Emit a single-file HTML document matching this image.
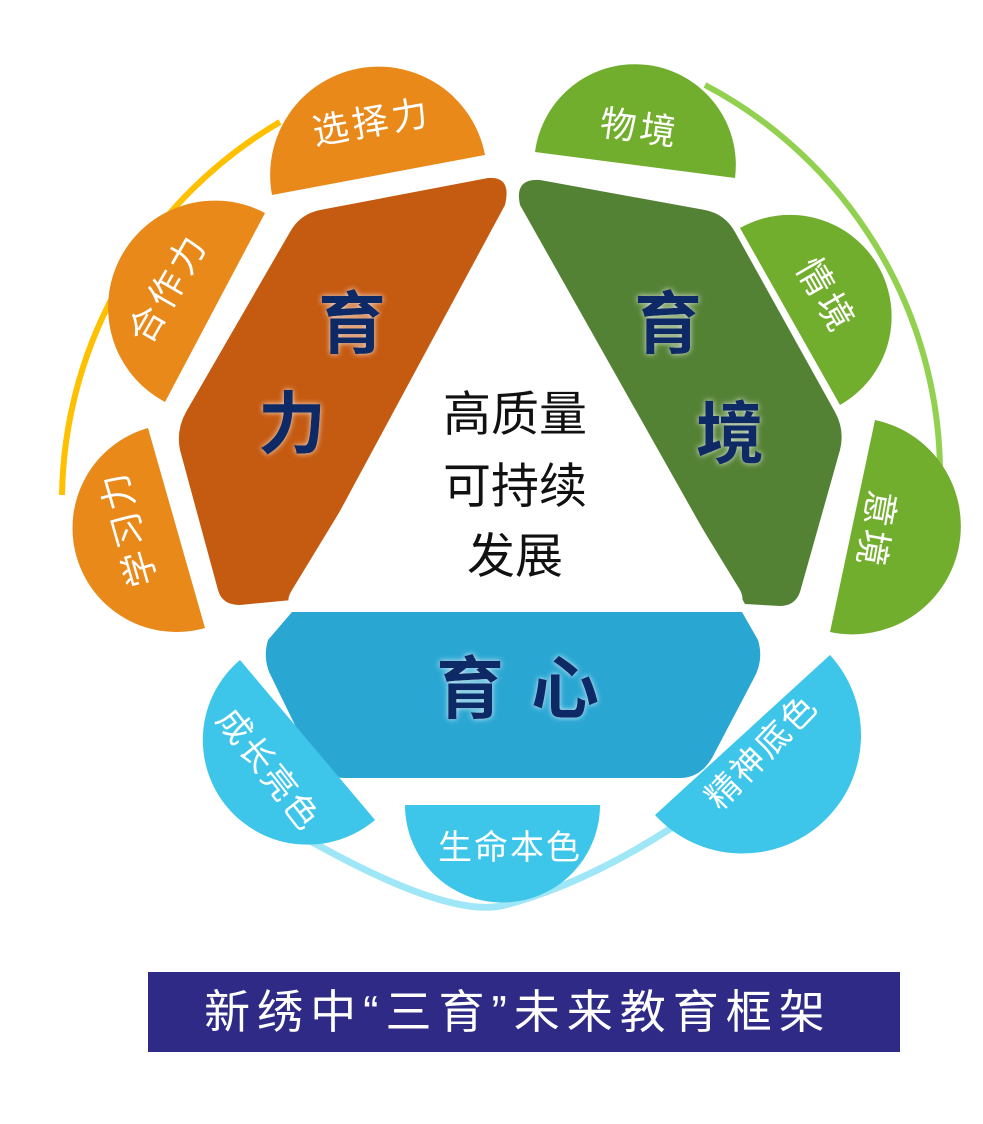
<!DOCTYPE html>
<html><head><meta charset="utf-8"><style>
html,body{margin:0;padding:0;background:#fff;}
svg{display:block;}
text{font-family:"Liberation Sans","Noto Sans CJK SC",sans-serif;}
</style></head><body>
<svg width="983" height="1124" viewBox="0 0 983 1124" xmlns="http://www.w3.org/2000/svg">
<defs>
<filter id="glow" x="-30%" y="-30%" width="160%" height="160%">
<feGaussianBlur in="SourceAlpha" stdDeviation="3" result="b"/>
<feFlood flood-color="#fff" flood-opacity="0.8"/>
<feComposite in2="b" operator="in" result="g"/>
<feMerge><feMergeNode in="g"/><feMergeNode in="SourceGraphic"/></feMerge>
</filter>
</defs>
<path d="M280 122 A440 440 0 0 0 62 495" fill="none" stroke="#FFC000" stroke-width="6"/>
<path d="M705 85 A440 440 0 0 1 940 470" fill="none" stroke="#92D050" stroke-width="6"/>
<path d="M305 838 Q450 920 505 905 Q600 880 705 805" fill="none" stroke="#9FE7F7" stroke-width="7"/>
<path d="M320 210 L488 178 Q512 176 505 205 L292 600 L240 605 Q222 605 218 590 L180 450 Q176 430 186 412 L290 232 Q300 214 320 210 Z" fill="#C55A11"/>
<path d="M520 205 Q514 178 540 180 L705 210 Q725 214 735 232 L835 412 Q845 430 840 450 L800 592 Q795 606 780 606 L745 604 Z" fill="#548235"/>
<path d="M292 612 L742 612 L758 640 Q764 660 754 678 L712 758 Q700 778 680 778 L345 778 Q325 778 312 760 L272 678 Q262 660 268 640 Z" fill="#2AA6D3"/>
<path d="M505 240 Q515 222 526 240 L740 590 Q748 606 730 606 L300 606 Q282 606 292 590 Z" fill="#fff"/>
<g fill="#E8891A">
<path d="M272 195 A1 1 0 0 1 485 155 Z"/>
<path d="M165 402 A1 1 0 0 1 265 213 Z"/>
<path d="M205 628 A1 1 0 0 1 148 428 Z"/>
</g>
<g fill="#72AE2D">
<path d="M535 152 A1 1 0 0 1 735 178 Z"/>
<path d="M740 228 A1 1 0 0 1 840 405 Z"/>
<path d="M875 420 A1 1 0 0 1 830 632 Z"/>
</g>
<g fill="#3EC5EA">
<path d="M830 655 A1 1 0 0 1 655 815 Z"/>
<path d="M600 805 A1 1 0 0 1 405 805 Z"/>
<path d="M375 820 A1 1 0 0 1 240 660 Z"/>
</g>
<g fill="#fff" font-size="36" text-anchor="middle" dominant-baseline="central">
<text transform="translate(372,122) rotate(-10)" letter-spacing="4">选择力</text>
<text transform="translate(168,288) rotate(-60)" letter-spacing="4">合作力</text>
<text transform="translate(128,528) rotate(-106)" letter-spacing="4">学习力</text>
<text transform="translate(640,128) rotate(8)" letter-spacing="4">物境</text>
<text transform="translate(826,296) rotate(60)" letter-spacing="4">情境</text>
<text transform="translate(876,530) rotate(100)" letter-spacing="4">意境</text>
<text transform="translate(268,770) rotate(52)" font-size="34" letter-spacing="2">成长亮色</text>
<text transform="translate(510,848)" font-size="34" letter-spacing="2">生命本色</text>
<text transform="translate(762,752) rotate(-46)" font-size="34" letter-spacing="2">精神底色</text>
</g>
<g fill="#0F2A66" font-size="68" font-weight="bold" text-anchor="middle" dominant-baseline="central" filter="url(#glow)">
<text x="352" y="325">育</text>
<text x="292" y="425">力</text>
<text x="668" y="325">育</text>
<text x="730" y="435">境</text>
<text x="470" y="690">育</text>
<text x="565" y="690">心</text>
</g>
<g fill="#111" font-size="48" text-anchor="middle" dominant-baseline="central">
<text x="515" y="415">高质量</text>
<text x="515" y="487">可持续</text>
<text x="515" y="557">发展</text>
</g>
<rect x="148" y="972" width="752" height="80" fill="#2E2A85"/>
<text x="518" y="1012" fill="#fff" font-size="46" letter-spacing="7" text-anchor="middle" dominant-baseline="central">新绣中“三育”未来教育框架</text>
</svg>
</body></html>
